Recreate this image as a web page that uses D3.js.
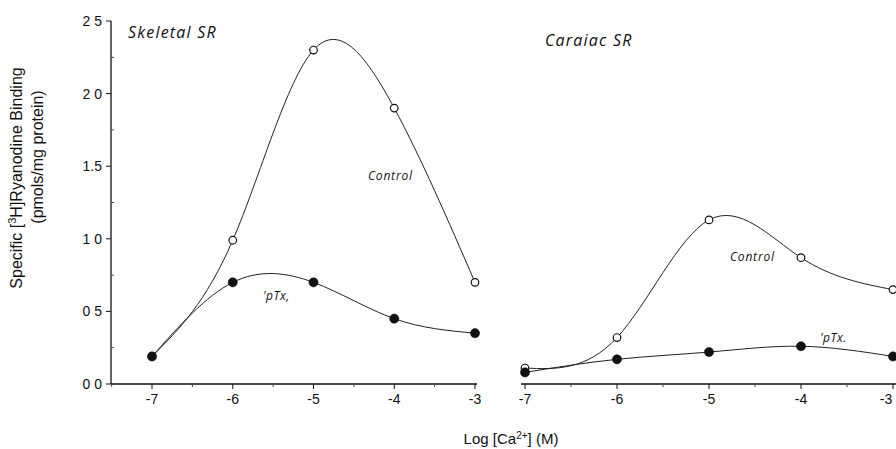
<!DOCTYPE html>
<html>
<head>
<meta charset="utf-8">
<script src="https://cdn.jsdelivr.net/npm/d3@7"></script>
<style>
  body { margin: 0; background: #fff; }
  svg { display: block; }
  text { fill: #111; }
</style>
</head>
<body>
<svg id="chart" width="896" height="449"></svg>
<script>
// log [Ca2+] steps, same for both panels
const logCa = [-7, -6, -5, -4, -3];

// skeletal SR
const skeletalControl = [0.19, 0.99, 2.30, 1.90, 0.70];
const skeletalIpTx = [0.19, 0.70, 0.70, 0.45, 0.35];

// cardiac SR
const cardiacControl = [0.11, 0.32, 1.13, 0.87, 0.65];
const cardiacIpTx = [0.08, 0.17, 0.22, 0.26, 0.19];

const yTicks = [0, 0.5, 1.0, 1.5, 2.0, 2.5];
const yTickLabels = ["0 0", "0 5", "1 0", "1.5", "2 0", "2 5"];
const xTicks = [-7, -6, -5, -4, -3];

const svg = d3.select("#chart");
const handFont = "'Open Sans', 'DejaVu Sans', sans-serif";
const axisFont = "'Liberation Sans', Arial, sans-serif";

const y = d3.scaleLinear().domain([0, 2.5]).range([384, 21]);

const xLeft = d3.scaleLinear().domain([-7, -3]).range([152, 475]);
const xRight = d3.scaleLinear().domain([-7, -3]).range([525, 893]);

// ---- y axis (left panel only)
const yAxis = svg.append("g").attr("transform", "translate(111,0)");
yAxis.append("line")
    .attr("x1", 0).attr("x2", 0)
    .attr("y1", y(0)).attr("y2", y(2.5))
    .attr("stroke", "#111").attr("stroke-width", 1.3);
yAxis.selectAll(".major").data(yTicks).join("line")
    .attr("x1", -5).attr("x2", 0)
    .attr("y1", d => y(d)).attr("y2", d => y(d))
    .attr("stroke", "#111");
yAxis.selectAll(".minor").data(d3.range(0.25, 2.5, 0.5)).join("line")
    .attr("x1", 0).attr("x2", 3)
    .attr("y1", d => y(d)).attr("y2", d => y(d))
    .attr("stroke", "#444");
yAxis.selectAll("text").data(yTicks).join("text")
    .attr("x", -9).attr("y", d => y(d))
    .attr("dy", "0.35em")
    .attr("text-anchor", "end")
    .style("font-family", axisFont)
    .style("font-size", "14px")
    .text((d, i) => yTickLabels[i]);

// ---- x axes
function drawXAxis(scale, x0, x1) {
    const g = svg.append("g").attr("transform", `translate(0,${y(0)})`);
    g.append("line")
        .attr("x1", x0).attr("x2", x1)
        .attr("y1", 0).attr("y2", 0)
        .attr("stroke", "#111").attr("stroke-width", 1.3);
    g.selectAll(".major").data(xTicks).join("line")
        .attr("x1", d => scale(d)).attr("x2", d => scale(d))
        .attr("y1", 0).attr("y2", 5)
        .attr("stroke", "#111");
    g.selectAll(".minor").data(d3.range(-7.5, -3, 1).filter(d => scale(d) > x0)).join("line")
        .attr("x1", d => scale(d)).attr("x2", d => scale(d))
        .attr("y1", 0).attr("y2", 3)
        .attr("stroke", "#444");
    g.selectAll("text").data(xTicks).join("text")
        .attr("x", d => Math.min(scale(d), 886)).attr("y", 20)
        .attr("text-anchor", "middle")
        .style("font-family", axisFont)
        .style("font-size", "14px")
        .text(d => d);
}
drawXAxis(xLeft, 111, 477);
drawXAxis(xRight, 521, 896);

// ---- series
function drawSeries(scale, values, open) {
    const line = d3.line()
        .x((d, i) => scale(logCa[i]))
        .y(d => y(d))
        .curve(d3.curveNatural);
    svg.append("path")
        .datum(values)
        .attr("d", line)
        .attr("fill", "none")
        .attr("stroke", "#222")
        .attr("stroke-width", 1);
    svg.append("g").selectAll("circle").data(values).join("circle")
        .attr("cx", (d, i) => scale(logCa[i]))
        .attr("cy", d => y(d))
        .attr("r", open ? 3.8 : 4.6)
        .attr("fill", open ? "#fff" : "#111")
        .attr("stroke", "#111")
        .attr("stroke-width", open ? 1.2 : 0.5);
}
drawSeries(xLeft, skeletalControl, true);
drawSeries(xLeft, skeletalIpTx, false);
drawSeries(xRight, cardiacControl, true);
drawSeries(xRight, cardiacIpTx, false);

// ---- panel and series labels
const labels = [
    { text: "Skeletal SR", x: 128, y: 38, size: 16, ls: 1.2 },
    { text: "Caraiac SR", x: 545, y: 46, size: 16, ls: 1.2 },
    { text: "Control", x: 368, y: 180, size: 12, ls: 0.8 },
    { text: "'pTx,", x: 263, y: 300, size: 12, ls: 0.5 },
    { text: "Control", x: 730, y: 261, size: 12, ls: 0.8 },
    { text: "'pTx.", x: 820, y: 342, size: 12, ls: 0.5 }
];
svg.selectAll(".lbl").data(labels).join("text")
    .attr("x", d => d.x).attr("y", d => d.y)
    .style("font-family", handFont)
    .style("font-style", "italic")
    .style("font-size", d => d.size + "px")
    .style("letter-spacing", d => d.ls + "px")
    .text(d => d.text);

// ---- axis titles
const yTitle = svg.append("text")
    .attr("transform", "translate(22,178) rotate(-90)")
    .attr("text-anchor", "middle")
    .style("font-family", axisFont)
    .style("font-size", "16px");
yTitle.append("tspan").text("Specific [");
yTitle.append("tspan").attr("baseline-shift", "super").style("font-size", "11px").text("3");
yTitle.append("tspan").text("H]Ryanodine Binding");

svg.append("text")
    .attr("transform", "translate(43,157) rotate(-90)")
    .attr("text-anchor", "middle")
    .style("font-family", axisFont)
    .style("font-size", "16px")
    .text("(pmols/mg protein)");

const xTitle = svg.append("text")
    .attr("x", 511).attr("y", 444)
    .attr("text-anchor", "middle")
    .style("font-family", axisFont)
    .style("font-size", "15px");
xTitle.append("tspan").text("Log [Ca");
xTitle.append("tspan").attr("baseline-shift", "super").style("font-size", "10px").text("2+");
xTitle.append("tspan").text("] (M)");
</script>
</body>
</html>
